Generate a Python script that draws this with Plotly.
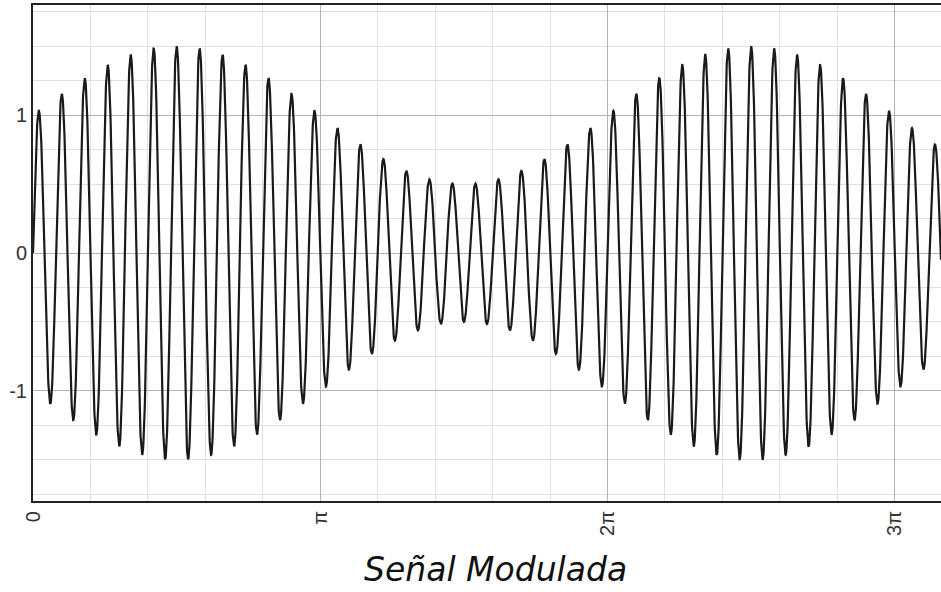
import numpy as np
import plotly.graph_objects as go

# Parameters (AM signal)
carrier_freq = 25        # carrier cycles per 2*pi
mod_depth = 0.5          # envelope swings between 0.5 and 1.5
mod_freq = 1             # envelope frequency
x_max = 9.93             # visible end of the x axis
n_points = 4000

x_tick_vals = [0, np.pi, 2 * np.pi, 3 * np.pi]
x_tick_text = ["0", "π", "2π", "3π"]
y_tick_vals = [-1, 0, 1]
y_tick_text = ["-1", "0", "1"]
title_text = "Señal Modulada"

x = np.linspace(0, x_max, n_points)
y = (1 + mod_depth * np.sin(mod_freq * x)) * np.sin(carrier_freq * x)

fig = go.Figure()
fig.add_trace(go.Scatter(x=x, y=y, mode="lines",
                         line=dict(color="#1a1a1a", width=2.2),
                         hoverinfo="skip", showlegend=False))

fig.update_layout(
    width=941, height=592,
    margin=dict(l=33, r=0, t=5, b=91),
    paper_bgcolor="white", plot_bgcolor="white",
    font=dict(family="Liberation Sans, Arial, sans-serif", size=20, color="#333333"),
    annotations=[dict(text=title_text, xref="paper", yref="paper",
                      x=0.509, y=-0.095, xanchor="center", yanchor="top",
                      showarrow=False,
                      font=dict(family="DejaVu Sans", size=33, color="#111111",
                                style="italic"))],
)

fig.update_xaxes(
    range=[0, x_max],
    tickmode="array", tickvals=x_tick_vals, ticktext=x_tick_text,
    tickangle=-90, ticks="", ticklen=0,
    showgrid=True, gridcolor="#b4b4b4", gridwidth=1,
    minor=dict(dtick=np.pi / 5, tick0=0, showgrid=True,
               gridcolor="#e0e0e0", gridwidth=1, ticks=""),
    showline=True, linecolor="#222222", linewidth=2, mirror=True,
    zeroline=False,
)
fig.update_yaxes(
    range=[-1.8, 1.8],
    tickmode="array", tickvals=y_tick_vals, ticktext=y_tick_text,
    ticks="", ticklen=0,
    showgrid=True, gridcolor="#b4b4b4", gridwidth=1,
    minor=dict(dtick=0.25, tick0=0, showgrid=True,
               gridcolor="#e0e0e0", gridwidth=1, ticks=""),
    showline=True, linecolor="#222222", linewidth=2, mirror=False,
    zeroline=False,
)

fig.write_html("out.html", config={"displayModeBar": False},
               post_script="document.body.style.margin='0';document.body.style.padding='0';")
